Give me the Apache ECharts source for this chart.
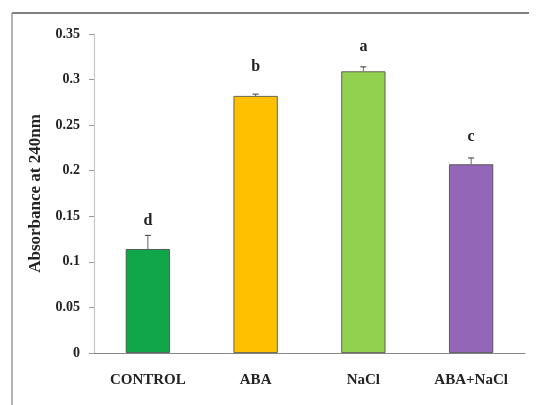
<!DOCTYPE html>
<html>
<head>
<meta charset="utf-8">
<script src="https://cdn.jsdelivr.net/npm/echarts@6/dist/echarts.min.js"></script>
<style>
html,body{margin:0;padding:0;background:#fff;}
#main{width:537px;height:405px;}
</style>
</head>
<body>
<div id="main"></div>
<script>
var categories = ['CONTROL', 'ABA', 'NaCl', 'ABA+NaCl'];
var values = [0.114, 0.282, 0.309, 0.207];
var errors = [0.015, 0.002, 0.005, 0.007];
var letters = ['d', 'b', 'a', 'c'];
var letterLevels = [0.145, 0.314, 0.336, 0.237];
var colors = ['#10a64a', '#ffc000', '#92d050', '#9466b8'];
var yTicks = [0, 0.05, 0.1, 0.15, 0.2, 0.25, 0.3, 0.35];

var serif = '"Liberation Serif", "DejaVu Serif", serif';
var chart = echarts.init(document.getElementById('main'), null, {renderer: 'canvas'});

var option = {
  backgroundColor: '#fff',
  animation: false,
  graphic: [
    {type: 'line', shape: {x1: 12, y1: 13, x2: 529, y2: 13}, style: {stroke: '#555', lineWidth: 1.5}},
    {type: 'line', shape: {x1: 12, y1: 13, x2: 12, y2: 405}, style: {stroke: '#999', lineWidth: 1.5}}
  ],
  grid: {left: 94, right: 12, top: 34, bottom: 52},
  xAxis: {
    type: 'category',
    data: categories,
    axisLine: {lineStyle: {color: '#888', width: 1.2}},
    axisTick: {show: false},
    axisLabel: {
      margin: 20,
      color: '#222',
      fontFamily: serif,
      fontWeight: 'bold',
      fontSize: 15
    }
  },
  yAxis: {
    type: 'value',
    min: 0,
    max: 0.35,
    interval: 0.05,
    name: 'Absorbance at 240nm',
    nameLocation: 'middle',
    nameGap: 50,
    nameTextStyle: {
      color: '#222',
      fontFamily: serif,
      fontWeight: 'bold',
      fontSize: 17
    },
    axisLine: {show: true, lineStyle: {color: '#c8c8c8', width: 1.2}},
    axisTick: {show: true, length: 5, lineStyle: {color: '#999'}},
    splitLine: {show: false},
    axisLabel: {
      margin: 14,
      color: '#222',
      fontFamily: serif,
      fontWeight: 'bold',
      fontSize: 14,
      formatter: function (v) {
        for (var i = 0; i < yTicks.length; i++) {
          if (Math.abs(yTicks[i] - v) < 1e-9) return String(yTicks[i]);
        }
        return '';
      }
    }
  },
  series: [
    {
      type: 'bar',
      barWidth: '41%',
      data: values.map(function (v, i) {
        return {value: v, itemStyle: {color: colors[i], borderColor: '#444', borderWidth: 0.8}};
      })
    },
    {
      type: 'custom',
      data: values.map(function (v, i) { return [i, v, errors[i], letterLevels[i]]; }),
      renderItem: function (params, api) {
        var idx = api.value(0);
        var v = api.value(1);
        var e = api.value(2);
        var p0 = api.coord([idx, v]);
        var p1 = api.coord([idx, v + e]);
        var pl = api.coord([idx, api.value(3)]);
        return {
          type: 'group',
          children: [
            {type: 'line', shape: {x1: p0[0], y1: p0[1], x2: p1[0], y2: p1[1]}, style: {stroke: '#666', lineWidth: 1}},
            {type: 'line', shape: {x1: p1[0] - 3, y1: p1[1], x2: p1[0] + 3, y2: p1[1]}, style: {stroke: '#555', lineWidth: 1.2}},
            {type: 'text', x: pl[0], y: pl[1], style: {
              text: letters[params.dataIndex],
              fill: '#222',
              font: 'bold 16px ' + serif,
              align: 'center',
              verticalAlign: 'middle'
            }}
          ]
        };
      },
      z: 10
    }
  ]
};
chart.setOption(option);
</script>
</body>
</html>
